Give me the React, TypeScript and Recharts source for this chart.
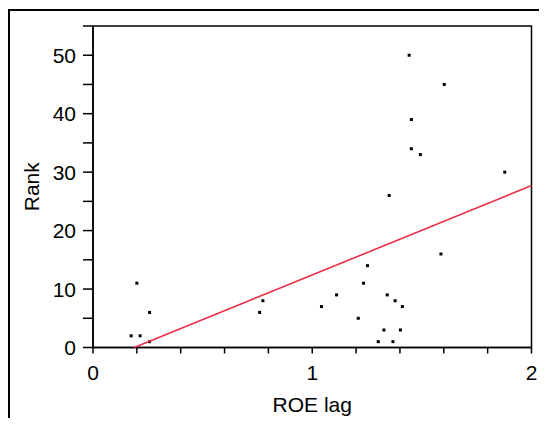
import React from 'react';
import { ScatterChart, Scatter, XAxis, YAxis, ReferenceArea } from 'recharts';

// ROE lag vs Rank, one point per firm
const roeLag = [
  0.174, 0.215, 0.2, 0.258, 0.258, 0.76, 0.775, 1.042, 1.111, 1.21, 1.234, 1.252, 1.301, 1.327,
  1.342, 1.368, 1.378, 1.402, 1.411, 1.587, 1.351, 1.442, 1.602, 1.452, 1.452, 1.493, 1.878,
];
const rank = [2, 2, 11, 6, 1, 6, 8, 7, 9, 5, 11, 14, 1, 3, 9, 1, 8, 3, 7, 16, 26, 50, 45, 39, 34, 33, 30];

// fitted regression line end points
const fitX = [0.188, 2];
const fitY = [0, 27.7];

const xDomain = [0, 2];
const yDomain = [0, 55];
const xTicks = [0, 0.2, 0.4, 0.6, 0.8, 1, 1.2, 1.4, 1.6, 1.8, 2];
const yTicks = [0, 5, 10, 15, 20, 25, 30, 35, 40, 45, 50, 55];

const points = roeLag.map((x, i) => ({ x, y: rank[i] }));
const fit = fitX.map((x, i) => ({ x, y: fitY[i] }));

const FONT = '"Liberation Sans", Arial, sans-serif';
const FS = 21;
const AXIS = { stroke: '#000', strokeWidth: 1.5 };

const SquareDot = (props: any) => {
  const { cx, cy } = props;
  if (cx == null || cy == null) return <g />;
  return <rect x={cx - 1.5} y={cy - 1.5} width={3} height={3} fill="#000" />;
};

const RankLabel = (props: any) => {
  const vb = props.viewBox || {};
  const x = 23;
  const y = vb.y + vb.height / 2;
  return (
    <text
      x={x}
      y={y}
      transform={`rotate(-90, ${x}, ${y})`}
      textAnchor="middle"
      dominantBaseline="central"
      fontSize={FS}
      fontFamily={FONT}
      fill="#000"
    >
      Rank
    </text>
  );
};

const App: React.FC = () => (
  <div style={{ position: 'relative', width: 539, height: 418, marginBottom: -8 }}>
    {/* outer figure frame (only top and left edges fall inside the crop) */}
    <div style={{ position: 'absolute', left: 0, top: 1, width: 539, height: 2, background: '#000' }} />
    <div style={{ position: 'absolute', left: 0, top: 1, width: 2, height: 417, background: '#000' }} />
    <div style={{ position: 'absolute', left: 0, top: 0 }}>
      <ScatterChart width={539} height={418} margin={{ top: 18, right: 15.5, bottom: 18.5, left: 25 }}>
        <XAxis
          type="number"
          dataKey="x"
          domain={xDomain}
          ticks={xTicks}
          tickFormatter={(v: number) => (Number.isInteger(v) ? String(v) : '')}
          tickSize={6}
          tickMargin={12}
          height={60}
          axisLine={AXIS}
          tickLine={AXIS}
          tick={{ fill: '#000', fontSize: FS, fontFamily: FONT }}
          label={{ value: 'ROE lag', position: 'insideBottom', offset: -4, fill: '#000', fontSize: FS, fontFamily: FONT }}
        />
        <YAxis
          type="number"
          dataKey="y"
          domain={yDomain}
          ticks={yTicks}
          tickFormatter={(v: number) => (v % 10 === 0 && v <= 50 ? String(v) : '')}
          tickSize={10}
          tickMargin={7}
          width={60}
          axisLine={AXIS}
          tickLine={AXIS}
          tick={{ fill: '#000', fontSize: FS, fontFamily: FONT }}
          label={<RankLabel />}
        />
        {/* plot box */}
        <ReferenceArea
          x1={xDomain[0]}
          x2={xDomain[1]}
          y1={yDomain[0]}
          y2={yDomain[1]}
          fill="none"
          fillOpacity={0}
          stroke="#000"
          strokeWidth={1.5}
          ifOverflow="visible"
        />
        <Scatter data={points} shape={<SquareDot />} isAnimationActive={false} />
        <Scatter
          data={fit}
          line={{ stroke: '#e8304a', strokeWidth: 1.6 }}
          shape={() => <g />}
          isAnimationActive={false}
        />
      </ScatterChart>
    </div>
  </div>
);

export default App;
